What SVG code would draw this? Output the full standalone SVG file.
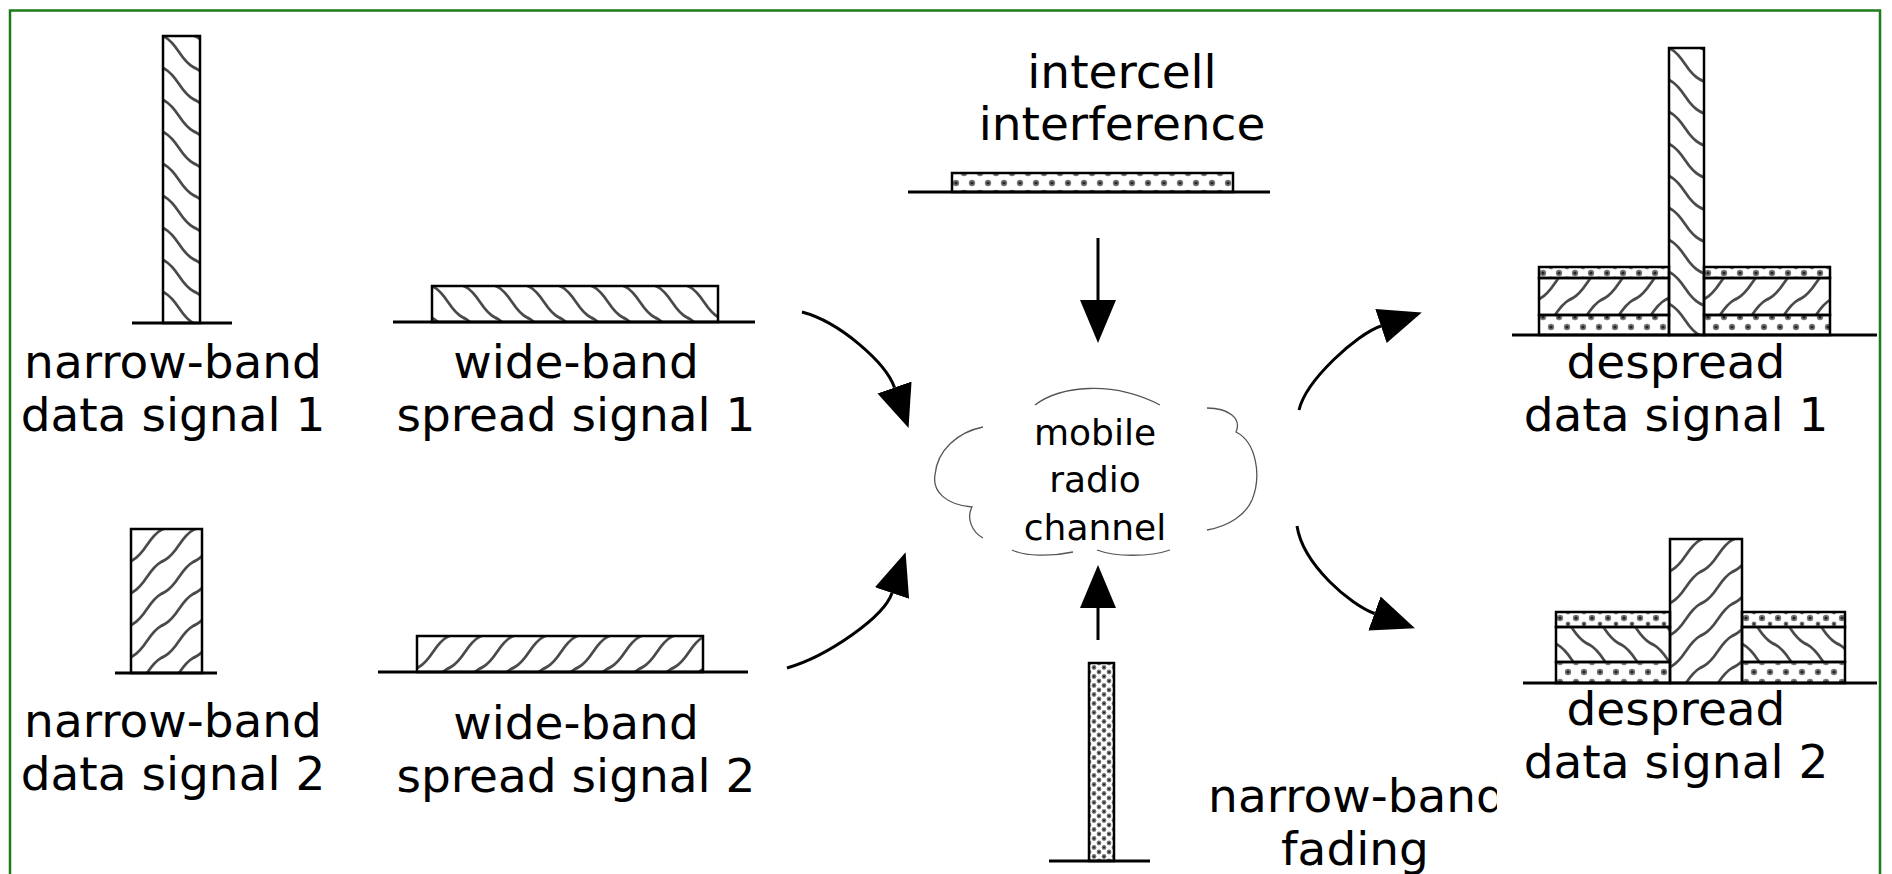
<svg xmlns="http://www.w3.org/2000/svg" width="1892" height="874" viewBox="0 0 1892 874">
  <style>
    .lbl { font-family: "DejaVu Sans", Verdana, sans-serif; font-size: 47px; fill: #000; text-anchor: middle; }
    .cloudlbl { font-family: "DejaVu Sans", Verdana, sans-serif; font-size: 36px; fill: #000; text-anchor: middle; }
    .box { stroke: #000; stroke-width: 2.5; }
    .base { stroke: #000; stroke-width: 3; fill: none; }
    .cloud { stroke: #555; stroke-width: 1.3; fill: none; }
    .conn { stroke: #000; stroke-width: 3; fill: none; }
    .hatch { stroke: #4a4a4a; stroke-width: 2.7; fill: none; stroke-linecap: round; }
    .dot { fill: #777; }
    .core { fill: #222; }
  </style>
  <defs>
    <!-- wavy hatch running top-left to bottom-right (signal 1) -->
    <path id="waveDown" d="M0,0 c7,3 12,10 16,16 c4,6 9,13 16,16"/>
    <!-- wavy hatch running bottom-left to top-right (signal 2) -->
    <path id="waveUp" d="M0,32 c7,-3 12,-10 16,-16 c4,-6 9,-13 16,-16"/>
    <pattern id="hatch1" patternUnits="userSpaceOnUse" width="32" height="32">
      <g class="hatch">
        <use href="#waveDown" x="-32" y="-32"/><use href="#waveDown" x="0" y="-32"/><use href="#waveDown" x="32" y="-32"/>
        <use href="#waveDown" x="-32" y="0"/><use href="#waveDown" x="0" y="0"/><use href="#waveDown" x="32" y="0"/>
        <use href="#waveDown" x="-32" y="32"/><use href="#waveDown" x="0" y="32"/><use href="#waveDown" x="32" y="32"/>
      </g>
    </pattern>
    <pattern id="hatch2" patternUnits="userSpaceOnUse" width="32" height="32">
      <g class="hatch">
        <use href="#waveUp" x="-32" y="-32"/><use href="#waveUp" x="0" y="-32"/><use href="#waveUp" x="32" y="-32"/>
        <use href="#waveUp" x="-32" y="0"/><use href="#waveUp" x="0" y="0"/><use href="#waveUp" x="32" y="0"/>
        <use href="#waveUp" x="-32" y="32"/><use href="#waveUp" x="0" y="32"/><use href="#waveUp" x="32" y="32"/>
      </g>
    </pattern>
    <!-- one soft dot of the interference texture -->
    <g id="dot">
      <circle class="dot" r="3.2"/>
      <circle class="core" r="1.6"/>
    </g>
    <g id="dotSmall">
      <circle class="dot" r="2.4"/>
      <circle class="core" r="1.1"/>
    </g>
    <!-- staggered dot textures -->
    <pattern id="dots" patternUnits="userSpaceOnUse" width="16" height="20">
      <use href="#dot" x="4" y="10"/>
      <use href="#dot" x="12" y="0"/>
      <use href="#dot" x="12" y="20"/>
    </pattern>
    <pattern id="dotsThin" patternUnits="userSpaceOnUse" width="16" height="12">
      <use href="#dot" x="4" y="6"/>
      <use href="#dotSmall" x="12" y="0"/>
      <use href="#dotSmall" x="12" y="12"/>
    </pattern>
    <pattern id="dotsDense" patternUnits="userSpaceOnUse" width="10" height="9">
      <use href="#dotSmall" x="5" y="4.5"/>
      <use href="#dotSmall" x="0" y="0"/>
      <use href="#dotSmall" x="10" y="0"/>
      <use href="#dotSmall" x="0" y="9"/>
      <use href="#dotSmall" x="10" y="9"/>
    </pattern>
    <marker id="head" markerUnits="userSpaceOnUse" markerWidth="46" markerHeight="40" refX="0" refY="19" orient="auto">
      <path d="M0,1 L43,19 L0,37 z" fill="#000"/>
    </marker>
    <clipPath id="fadeClip">
      <rect x="1150" y="760" width="347" height="114"/>
    </clipPath>
  </defs>

  <!-- frame -->
  <path d="M10,874 V10.5 H1880 V874" fill="none" stroke="#1c7c1c" stroke-width="2.5"/>

  <!-- narrow-band data signal 1 -->
  <g id="nb1">
    <g transform="translate(163,36)">
      <rect x="0" y="0" width="37" height="287" fill="url(#hatch1)" class="box"/>
    </g>
    <line x1="132" y1="323" x2="232" y2="323" class="base"/>
    <text class="lbl" x="173" y="378">narrow-band</text>
    <text class="lbl" x="173" y="431">data signal 1</text>
  </g>

  <!-- wide-band spread signal 1 -->
  <g id="wb1">
    <g transform="translate(432,286)">
      <rect x="0" y="0" width="286" height="36" fill="url(#hatch1)" class="box"/>
    </g>
    <line x1="393" y1="322" x2="755" y2="322" class="base"/>
    <text class="lbl" x="576" y="378">wide-band</text>
    <text class="lbl" x="576" y="431">spread signal 1</text>
  </g>

  <!-- narrow-band data signal 2 -->
  <g id="nb2">
    <g transform="translate(131,529)">
      <rect x="0" y="0" width="71" height="144" fill="url(#hatch2)" class="box"/>
    </g>
    <line x1="115" y1="673" x2="217" y2="673" class="base"/>
    <text class="lbl" x="173" y="737">narrow-band</text>
    <text class="lbl" x="173" y="790">data signal 2</text>
  </g>

  <!-- wide-band spread signal 2 -->
  <g id="wb2">
    <g transform="translate(417,636)">
      <rect x="0" y="0" width="286" height="36" fill="url(#hatch2)" class="box"/>
    </g>
    <line x1="378" y1="672" x2="748" y2="672" class="base"/>
    <text class="lbl" x="576" y="739">wide-band</text>
    <text class="lbl" x="576" y="792">spread signal 2</text>
  </g>

  <!-- intercell interference -->
  <g id="interference">
    <text class="lbl" x="1122" y="88">intercell</text>
    <text class="lbl" x="1122" y="140">interference</text>
    <g transform="translate(952,173)">
      <rect x="0" y="0" width="281" height="19" fill="url(#dots)" class="box" stroke-width="2"/>
    </g>
    <line x1="908" y1="192" x2="1270" y2="192" class="base"/>
  </g>

  <!-- mobile radio channel -->
  <g id="channel">
    <path class="cloud" d="M1035,405 C1060,386 1112,380 1160,405"/>
    <path class="cloud" d="M1207,408 C1228,408 1242,418 1236,432 C1256,442 1262,475 1252,500 C1246,514 1230,526 1207,530"/>
    <path class="cloud" d="M1170,550 C1150,557 1115,557 1097,550"/>
    <path class="cloud" d="M1073,552 C1050,557 1025,556 1012,550"/>
    <path class="cloud" d="M983,538 C972,532 966,518 972,507 C947,505 932,492 935,475 C937,450 958,432 983,427"/>
    <text class="cloudlbl" x="1095" y="445">mobile</text>
    <text class="cloudlbl" x="1095" y="492">radio</text>
    <text class="cloudlbl" x="1095" y="540">channel</text>
  </g>

  <!-- narrow-band fading -->
  <g id="fading">
    <g transform="translate(1089,663)">
      <rect x="0" y="0" width="25" height="198" fill="url(#dotsDense)" class="box"/>
    </g>
    <line x1="1049" y1="861" x2="1150" y2="861" class="base"/>
    <g clip-path="url(#fadeClip)">
      <text class="lbl" x="1357" y="812">narrow-band</text>
    </g>
    <text class="lbl" x="1355" y="865">fading</text>
  </g>

  <!-- despread data signal 1 -->
  <g id="ds1">
    <g transform="translate(1539,267)">
      <rect x="0" y="0" width="130" height="11" fill="url(#dotsThin)" class="box"/>
      <rect x="0" y="11" width="130" height="37" fill="url(#hatch2)" class="box"/>
      <rect x="0" y="48" width="130" height="20" fill="url(#dots)" class="box"/>
    </g>
    <g transform="translate(1704,267)">
      <rect x="0" y="0" width="126" height="11" fill="url(#dotsThin)" class="box"/>
      <rect x="0" y="11" width="126" height="37" fill="url(#hatch2)" class="box"/>
      <rect x="0" y="48" width="126" height="20" fill="url(#dots)" class="box"/>
    </g>
    <g transform="translate(1669,48)">
      <rect x="0" y="0" width="35" height="287" fill="url(#hatch1)" class="box"/>
    </g>
    <line x1="1512" y1="335" x2="1877" y2="335" class="base"/>
    <text class="lbl" x="1676" y="378">despread</text>
    <text class="lbl" x="1676" y="431">data signal 1</text>
  </g>

  <!-- despread data signal 2 -->
  <g id="ds2">
    <g transform="translate(1556,612)">
      <rect x="0" y="0" width="114" height="15" fill="url(#dotsThin)" class="box"/>
      <rect x="0" y="15" width="114" height="35" fill="url(#hatch1)" class="box"/>
      <rect x="0" y="50" width="114" height="21" fill="url(#dots)" class="box"/>
    </g>
    <g transform="translate(1742,612)">
      <rect x="0" y="0" width="103" height="15" fill="url(#dotsThin)" class="box"/>
      <rect x="0" y="15" width="103" height="35" fill="url(#hatch1)" class="box"/>
      <rect x="0" y="50" width="103" height="21" fill="url(#dots)" class="box"/>
    </g>
    <g transform="translate(1670,539)">
      <rect x="0" y="0" width="72" height="144" fill="url(#hatch2)" class="box"/>
    </g>
    <line x1="1523" y1="683" x2="1877" y2="683" class="base"/>
    <text class="lbl" x="1676" y="725">despread</text>
    <text class="lbl" x="1676" y="778">data signal 2</text>
  </g>

  <!-- connectors -->
  <g id="connectors">
    <path class="conn" marker-end="url(#head)" d="M802,312 C840,322 886,363 894.5,387.5"/>
    <path class="conn" marker-end="url(#head)" d="M787,668 C828,656 884,617 892,593"/>
    <path class="conn" marker-end="url(#head)" d="M1098,238 V300"/>
    <path class="conn" marker-end="url(#head)" d="M1098,640 V608"/>
    <path class="conn" marker-end="url(#head)" d="M1299,410 C1306,380 1357,334 1381,326"/>
    <path class="conn" marker-end="url(#head)" d="M1297,526 C1303,565 1351,605 1374.5,613.5"/>
  </g>
</svg>
